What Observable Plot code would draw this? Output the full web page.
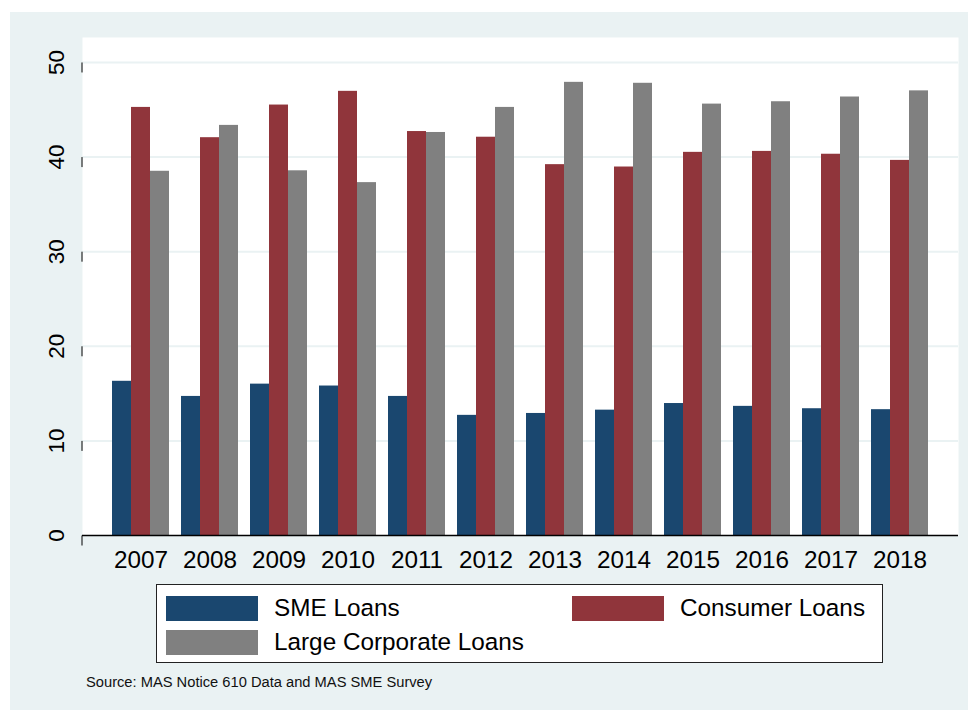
<!DOCTYPE html>
<html>
<head>
<meta charset="utf-8">
<script src="https://cdn.jsdelivr.net/npm/d3@7"></script>
<script src="https://cdn.jsdelivr.net/npm/@observablehq/plot@0.6"></script>
<style>
  html, body { margin: 0; padding: 0; background: #fff; }
  #wrap { position: relative; width: 968px; height: 711px; background: #fff; overflow: hidden;
          font-family: "Liberation Sans", Arial, Helvetica, sans-serif; color: #000; }
  #bg { position: absolute; left: 10px; top: 12px; width: 958px; height: 698px; background: #eaf2f3; }
  #chart { position: absolute; left: 0; top: 0; }
  #legend { position: absolute; left: 156px; top: 584px; width: 725px; height: 77px;
            background: #fff; border: 1.5px solid #222; }
  .item { position: absolute; display: flex; align-items: center; font-size: 24.3px; }
  .sw { width: 92px; height: 25px; margin-right: 16px; }
  #caption { position: absolute; left: 86px; top: 674px; font-size: 14.7px; color: #111; }
</style>
</head>
<body>
<div id="wrap">
  <div id="bg"></div>
  <div id="chart"></div>
  <div id="legend"></div>
  <div id="caption"></div>
</div>
<script>
const years = ["2007","2008","2009","2010","2011","2012","2013","2014","2015","2016","2017","2018"];
const series = ["SME Loans", "Consumer Loans", "Large Corporate Loans"];
const colors = ["#1a476f", "#90353b", "#808080"];
const smeLoans      = [16.3, 14.7, 16.0, 15.8, 14.7, 12.7, 12.9, 13.25, 13.95, 13.65, 13.4, 13.3];
const consumerLoans = [45.25, 42.05, 45.5, 46.95, 42.7, 42.1, 39.2, 38.95, 40.5, 40.6, 40.3, 39.65];
const largeLoans    = [38.5, 43.35, 38.55, 37.3, 42.6, 45.25, 47.9, 47.8, 45.6, 45.85, 46.35, 47.0];
const yTicks = [0, 10, 20, 30, 40, 50];
const captionText = "Source: MAS Notice 610 Data and MAS SME Survey";

const valuesBySeries = [smeLoans, consumerLoans, largeLoans];
const data = series.flatMap((s, i) => years.map((y, j) => ({year: y, series: s, value: valuesBySeries[i][j]})));

const insets = [{insetRight: 38}, {insetLeft: 19, insetRight: 19}, {insetLeft: 38}];

const chart = Plot.plot({
  width: 968,
  height: 711,
  marginLeft: 82,
  marginRight: 10,
  marginTop: 37,
  marginBottom: 176,
  style: {background: "transparent", fontFamily: '"Liberation Sans", Arial, sans-serif', color: "#000", overflow: "visible"},
  x: {type: "band", domain: years, paddingInner: 0.178, paddingOuter: 0.404},
  y: {domain: [0, 52.64]},
  marks: [
    Plot.frame({fill: "white", stroke: "none"}),
    Plot.ruleY(yTicks.filter(d => d > 0), {stroke: "#eaf2f3", strokeWidth: 2}),
    ...series.map((s, i) => Plot.barY(data.filter(d => d.series === s), {
      x: "year", y: "value", fill: colors[i], ...insets[i]
    })),
    Plot.ruleY([0], {stroke: "#000", strokeWidth: 1.5}),
    Plot.axisY({ticks: yTicks, tickSize: 10, tickPadding: 9, rotate: -90, textAnchor: "middle",
                lineAnchor: "bottom", fontSize: 22.5, line: true, label: null, stroke: "#000", fill: "#000"}),
    Plot.axisX({tickSize: 0, tickPadding: 15, fontSize: 24.3, label: null, fill: "#000"})
  ]
});
document.getElementById("chart").appendChild(chart);

// legend
const legend = document.getElementById("legend");
const pos = [{left: 9, top: 9}, {left: 415, top: 9}, {left: 9, top: 43}];
series.forEach((s, i) => {
  const it = document.createElement("div");
  it.className = "item";
  it.style.left = pos[i].left + "px";
  it.style.top = pos[i].top + "px";
  const sw = document.createElement("div");
  sw.className = "sw";
  sw.style.background = colors[i];
  const tx = document.createElement("span");
  tx.textContent = s;
  it.appendChild(sw);
  it.appendChild(tx);
  legend.appendChild(it);
});
document.getElementById("caption").textContent = captionText;
</script>
</body>
</html>
